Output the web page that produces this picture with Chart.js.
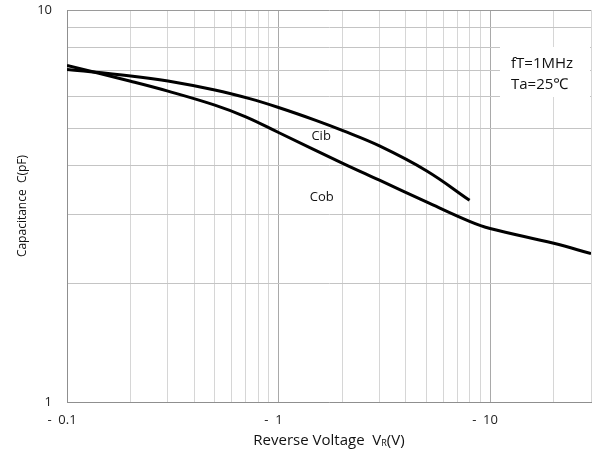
<!DOCTYPE html>
<html>
<head>
<meta charset="utf-8">
<script src="https://cdn.jsdelivr.net/npm/chart.js@4/dist/chart.umd.min.js"></script>
<style>
  html, body { margin: 0; padding: 0; background: #ffffff; }
  #wrap { width: 595px; height: 454px; }
</style>
</head>
<body>
<div id="wrap"><canvas id="c" width="595" height="454"></canvas></div>
<script>
// Output capacitance Cob vs reverse voltage
const cobVoltage = [0.1, 0.2, 0.3, 0.5, 0.7, 1, 2, 3, 5, 8, 10, 20, 30];
const cobCap     = [7.22, 6.58, 6.21, 5.72, 5.34, 4.87, 4.07, 3.68, 3.24, 2.89, 2.77, 2.54, 2.39];

// Input capacitance Cib vs reverse voltage
const cibVoltage = [0.1, 0.2, 0.3, 0.5, 0.73, 1, 1.5, 2, 3, 5, 8];
const cibCap     = [7.05, 6.79, 6.59, 6.25, 5.94, 5.64, 5.23, 4.93, 4.50, 3.89, 3.27];

// Log grid positions and their labels
const xTickValues = [0.1, 0.2, 0.3, 0.4, 0.5, 0.6, 0.7, 0.8, 0.9, 1, 2, 3, 4, 5, 6, 7, 8, 9, 10, 20, 30];
const xTickLabels = { 0.1: '-  0.1', 1: '-  1', 10: '-  10' };
const yTickValues = [1, 2, 3, 4, 5, 6, 7, 8, 9, 10];
const yTickLabels = { 1: '1', 10: '10' };

// Curve names placed beside the lines (voltage, capacitance)
const curveNames = [
  { text: 'Cib', v: 1.59, c: 4.77 },
  { text: 'Cob', v: 1.60, c: 3.33 }
];
// Measurement conditions
const conditionLines = ['fT=1MHz', 'Ta=25\u2103'];

const FONT = "'Open Sans', 'Noto Sans', sans-serif";
const xMajor = new Set([0.1, 1, 10]);

// keep the plot frame exactly where the layout padding puts it
function noOverflow(s) {
  s.paddingLeft = 0; s.paddingRight = 0; s.paddingTop = 0; s.paddingBottom = 0;
}

const decorations = {
  id: 'decorations',
  beforeDatasetsDraw(chart) {
    const ctx = chart.ctx;
    const area = chart.chartArea;
    // blank panel behind the conditions text
    ctx.save();
    ctx.fillStyle = '#ffffff';
    ctx.fillRect(500, 47, area.right - 500 - 1, 50);
    ctx.restore();
  },
  afterDraw(chart) {
    const ctx = chart.ctx;
    const area = chart.chartArea;
    const xs = chart.scales.x, ys = chart.scales.y;
    ctx.save();
    ctx.fillStyle = '#111111';
    ctx.textBaseline = 'alphabetic';

    // conditions
    ctx.font = '15px ' + FONT;
    ctx.textAlign = 'left';
    conditionLines.forEach((t, i) => ctx.fillText(t, 511, 68 + i * 21));

    // curve names
    ctx.font = '13px ' + FONT;
    ctx.textAlign = 'center';
    ctx.textBaseline = 'middle';
    curveNames.forEach(n => ctx.fillText(n.text, xs.getPixelForValue(n.v), ys.getPixelForValue(n.c)));

    // x-axis title with subscript R
    ctx.textBaseline = 'alphabetic';
    ctx.textAlign = 'left';
    const main = 'Reverse Voltage  V';
    const sub = 'R';
    const tail = '(V)';
    const mainFont = '15px ' + FONT, subFont = '9px ' + FONT;
    ctx.font = mainFont; const w1 = ctx.measureText(main).width; const w3 = ctx.measureText(tail).width;
    ctx.font = subFont; const w2 = ctx.measureText(sub).width;
    const total = w1 + w2 + w3;
    let x = (area.left + area.right) / 2 - total / 2;
    const base = 445;
    ctx.font = mainFont; ctx.fillText(main, x, base); x += w1;
    ctx.font = subFont; ctx.fillText(sub, x, base + 1); x += w2;
    ctx.font = mainFont; ctx.fillText(tail, x, base);
    ctx.restore();
  }
};

new Chart(document.getElementById('c'), {
  type: 'line',
  data: {
    datasets: [
      {
        label: 'Cib',
        data: cibVoltage.map((v, i) => ({ x: v, y: cibCap[i] })),
        borderColor: '#000000',
        borderWidth: 3,
        pointRadius: 0,
        tension: 0.4,
        fill: false
      },
      {
        label: 'Cob',
        data: cobVoltage.map((v, i) => ({ x: v, y: cobCap[i] })),
        borderColor: '#000000',
        borderWidth: 3,
        pointRadius: 0,
        tension: 0.4,
        fill: false
      }
    ]
  },
  options: {
    responsive: false,
    animation: false,
    devicePixelRatio: 1,
    layout: { padding: { top: 10, right: 4, left: 0, bottom: 0 } },
    plugins: { legend: { display: false }, tooltip: { enabled: false } },
    scales: {
      x: {
        type: 'logarithmic',
        min: 0.1,
        max: 30,
        afterBuildTicks: s => { s.ticks = xTickValues.map(v => ({ value: v })); },
        afterFit: s => { s.height = 52; noOverflow(s); },
        ticks: {
          autoSkip: false,
          maxRotation: 0,
          padding: 10,
          labelOffset: -5,
          color: '#222222',
          font: { family: FONT, size: 13 },
          callback: v => xTickLabels[v] ?? ''
        },
        grid: {
          drawTicks: false,
          lineWidth: 1,
          color: c => (c.tick && xMajor.has(c.tick.value)) ? '#a9a9a9' : '#d6d6d6'
        },
        border: { display: true, color: '#8f8f8f', width: 1 }
      },
      y: {
        type: 'logarithmic',
        min: 1,
        max: 10,
        afterBuildTicks: s => { s.ticks = yTickValues.map(v => ({ value: v })); },
        afterFit: s => { s.width = 67; noOverflow(s); },
        ticks: {
          autoSkip: false,
          padding: 15,
          color: '#222222',
          font: { family: FONT, size: 13 },
          callback: v => yTickLabels[v] ?? ''
        },
        grid: {
          drawTicks: false,
          lineWidth: 1,
          color: c => (c.tick && c.tick.value === 10) ? '#9a9a9a' : '#c4c4c4'
        },
        border: { display: true, color: '#8f8f8f', width: 1 },
        title: {
          display: true,
          text: 'Capacitance  C(pF)',
          color: '#111111',
          font: { family: FONT, size: 12 },
          padding: { top: 15, bottom: 0 }
        }
      }
    }
  },
  plugins: [decorations]
});
</script>
</body>
</html>
